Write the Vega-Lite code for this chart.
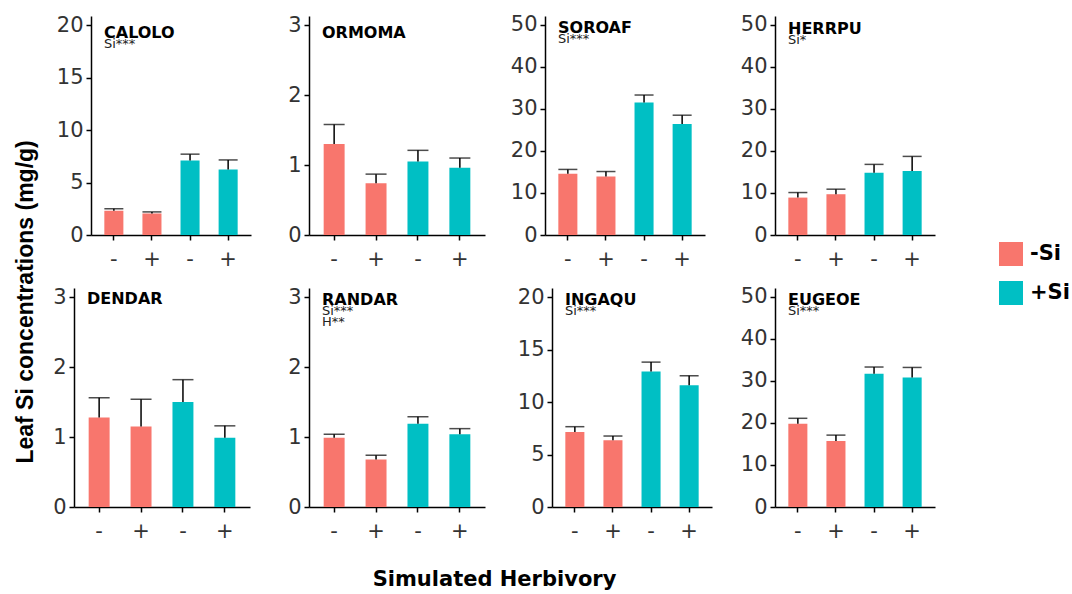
{
  "$schema": "https://vega.github.io/schema/vega-lite/v6.json",
  "padding": {"left": 14, "top": 13, "right": 0, "bottom": 0},
  "data": {"values": [
    {"sp": "CALOLO", "si": "-Si", "herb": "-", "cond": "-Si:-", "mean": 2.3, "upper": 2.5},
    {"sp": "CALOLO", "si": "-Si", "herb": "+", "cond": "-Si:+", "mean": 2.05, "upper": 2.2},
    {"sp": "CALOLO", "si": "+Si", "herb": "-", "cond": "+Si:-", "mean": 7.1, "upper": 7.7},
    {"sp": "CALOLO", "si": "+Si", "herb": "+", "cond": "+Si:+", "mean": 6.25, "upper": 7.15},
    {"sp": "ORMOMA", "si": "-Si", "herb": "-", "cond": "-Si:-", "mean": 1.3, "upper": 1.58},
    {"sp": "ORMOMA", "si": "-Si", "herb": "+", "cond": "-Si:+", "mean": 0.74, "upper": 0.87},
    {"sp": "ORMOMA", "si": "+Si", "herb": "-", "cond": "+Si:-", "mean": 1.05, "upper": 1.21},
    {"sp": "ORMOMA", "si": "+Si", "herb": "+", "cond": "+Si:+", "mean": 0.96, "upper": 1.1},
    {"sp": "SOROAF", "si": "-Si", "herb": "-", "cond": "-Si:-", "mean": 14.6, "upper": 15.6},
    {"sp": "SOROAF", "si": "-Si", "herb": "+", "cond": "-Si:+", "mean": 13.9, "upper": 15.1},
    {"sp": "SOROAF", "si": "+Si", "herb": "-", "cond": "+Si:-", "mean": 31.5, "upper": 33.3},
    {"sp": "SOROAF", "si": "+Si", "herb": "+", "cond": "+Si:+", "mean": 26.4, "upper": 28.5},
    {"sp": "HERRPU", "si": "-Si", "herb": "-", "cond": "-Si:-", "mean": 8.9, "upper": 10.1},
    {"sp": "HERRPU", "si": "-Si", "herb": "+", "cond": "-Si:+", "mean": 9.7, "upper": 10.9},
    {"sp": "HERRPU", "si": "+Si", "herb": "-", "cond": "+Si:-", "mean": 14.8, "upper": 16.8},
    {"sp": "HERRPU", "si": "+Si", "herb": "+", "cond": "+Si:+", "mean": 15.2, "upper": 18.7},
    {"sp": "DENDAR", "si": "-Si", "herb": "-", "cond": "-Si:-", "mean": 1.28, "upper": 1.56},
    {"sp": "DENDAR", "si": "-Si", "herb": "+", "cond": "-Si:+", "mean": 1.15, "upper": 1.54},
    {"sp": "DENDAR", "si": "+Si", "herb": "-", "cond": "+Si:-", "mean": 1.5, "upper": 1.82},
    {"sp": "DENDAR", "si": "+Si", "herb": "+", "cond": "+Si:+", "mean": 0.99, "upper": 1.16},
    {"sp": "RANDAR", "si": "-Si", "herb": "-", "cond": "-Si:-", "mean": 0.99, "upper": 1.04},
    {"sp": "RANDAR", "si": "-Si", "herb": "+", "cond": "-Si:+", "mean": 0.68, "upper": 0.74},
    {"sp": "RANDAR", "si": "+Si", "herb": "-", "cond": "+Si:-", "mean": 1.19, "upper": 1.29},
    {"sp": "RANDAR", "si": "+Si", "herb": "+", "cond": "+Si:+", "mean": 1.04, "upper": 1.12},
    {"sp": "INGAQU", "si": "-Si", "herb": "-", "cond": "-Si:-", "mean": 7.14, "upper": 7.65},
    {"sp": "INGAQU", "si": "-Si", "herb": "+", "cond": "-Si:+", "mean": 6.35, "upper": 6.76},
    {"sp": "INGAQU", "si": "+Si", "herb": "-", "cond": "+Si:-", "mean": 12.9, "upper": 13.8},
    {"sp": "INGAQU", "si": "+Si", "herb": "+", "cond": "+Si:+", "mean": 11.6, "upper": 12.5},
    {"sp": "EUGEOE", "si": "-Si", "herb": "-", "cond": "-Si:-", "mean": 19.8, "upper": 21.1},
    {"sp": "EUGEOE", "si": "-Si", "herb": "+", "cond": "-Si:+", "mean": 15.7, "upper": 17.1},
    {"sp": "EUGEOE", "si": "+Si", "herb": "-", "cond": "+Si:-", "mean": 31.7, "upper": 33.3},
    {"sp": "EUGEOE", "si": "+Si", "herb": "+", "cond": "+Si:+", "mean": 30.8, "upper": 33.2}
  ]},
  "title": {"text": "Leaf Si concentrations (mg/g)", "orient": "left", "anchor": "middle", "font": "Liberation Sans", "fontSize": 23, "fontWeight": "bold", "color": "black", "offset": 4},
  "resolve": {"scale": {"color": "shared"}, "legend": {"color": "shared"}},
  "vconcat": [
    {
      "title": {"text": "Simulated Herbivory", "orient": "bottom", "anchor": "middle", "font": "DejaVu Sans", "fontSize": 21, "fontWeight": "bold", "color": "black", "offset": 28, "dx": 6},
      "spacing": 16,
      "resolve": {"scale": {"color": "shared"}, "legend": {"color": "shared"}},
      "vconcat": [
        {
          "spacing": 0,
          "resolve": {"scale": {"color": "shared"}, "legend": {"color": "shared"}},
          "hconcat": [
            {
              "width": 177, "height": 219,
              "title": {"text": "CALOLO", "subtitle": "Si***", "anchor": "start", "frame": "group", "orient": "top", "offset": -37, "dx": 30, "font": "DejaVu Sans", "fontSize": 16, "fontWeight": "bold", "color": "black", "subtitleFont": "DejaVu Sans", "subtitleFontSize": 13, "subtitleColor": "#222222", "subtitlePadding": -3, "subtitleLineHeight": 11},
              "transform": [{"filter": "datum.sp === 'CALOLO'"}],
              "encoding": {"x": {"field": "cond", "type": "nominal", "sort": ["-Si:-", "-Si:+", "+Si:-", "+Si:+"], "scale": {"range": [17, 177], "paddingInner": 0.5, "paddingOuter": 0.35}, "axis": {"title": null, "labelExpr": "substring(datum.label, 4)", "labelAngle": 0, "labelPadding": 8}}},
              "layer": [
                {"mark": {"type": "bar"}, "encoding": {"y": {"field": "mean", "type": "quantitative", "title": null, "scale": {"domain": [0, 20.86], "nice": false}, "axis": {"title": null, "values": [0, 5, 10, 15, 20], "format": "d", "offset": -17, "labelPadding": 3}}, "color": {"field": "si", "type": "nominal", "scale": {"domain": ["-Si", "+Si"], "range": ["#F8766D", "#00BFC4"]}, "legend": {"title": null, "orient": "none", "legendX": 925, "legendY": 226, "symbolType": "square", "symbolSize": 576, "symbolStrokeWidth": 0, "labelFont": "DejaVu Sans", "labelFontSize": 21, "labelFontWeight": "bold", "labelColor": "black", "rowPadding": 15, "labelOffset": 7, "padding": 0}}}},
                {"mark": {"type": "rule", "color": "black", "strokeWidth": 1.5}, "encoding": {"y": {"field": "mean", "type": "quantitative", "title": null}, "y2": {"field": "upper"}}},
                {"mark": {"type": "tick", "color": "black", "thickness": 1.5, "size": 19}, "encoding": {"y": {"field": "upper", "type": "quantitative", "title": null}}}
              ]
            },
            {
              "width": 176, "height": 219,
              "title": {"text": "ORMOMA", "anchor": "start", "frame": "group", "orient": "top", "offset": -27, "dx": 13, "font": "DejaVu Sans", "fontSize": 16, "fontWeight": "bold", "color": "black"},
              "transform": [{"filter": "datum.sp === 'ORMOMA'"}],
              "encoding": {"x": {"field": "cond", "type": "nominal", "sort": ["-Si:-", "-Si:+", "+Si:-", "+Si:+"], "scale": {"paddingInner": 0.5, "paddingOuter": 0.35}, "axis": {"title": null, "labelExpr": "substring(datum.label, 4)", "labelAngle": 0, "labelPadding": 8}}},
              "layer": [
                {"mark": {"type": "bar"}, "encoding": {"y": {"field": "mean", "type": "quantitative", "title": null, "scale": {"domain": [0, 3.13], "nice": false}, "axis": {"title": null, "values": [0, 1, 2, 3], "format": "d", "minExtent": 58, "labelPadding": 3}}, "color": {"field": "si", "type": "nominal", "scale": {"domain": ["-Si", "+Si"], "range": ["#F8766D", "#00BFC4"]}, "legend": {"title": null, "orient": "none", "legendX": 925, "legendY": 226, "symbolType": "square", "symbolSize": 576, "symbolStrokeWidth": 0, "labelFont": "DejaVu Sans", "labelFontSize": 21, "labelFontWeight": "bold", "labelColor": "black", "rowPadding": 15, "labelOffset": 7, "padding": 0}}}},
                {"mark": {"type": "rule", "color": "black", "strokeWidth": 1.5}, "encoding": {"y": {"field": "mean", "type": "quantitative", "title": null}, "y2": {"field": "upper"}}},
                {"mark": {"type": "tick", "color": "black", "thickness": 1.5, "size": 21}, "encoding": {"y": {"field": "upper", "type": "quantitative", "title": null}}}
              ]
            },
            {
              "width": 160, "height": 219,
              "title": {"text": "SOROAF", "subtitle": "Si***", "anchor": "start", "frame": "group", "orient": "top", "offset": -32, "dx": 13, "font": "DejaVu Sans", "fontSize": 16, "fontWeight": "bold", "color": "black", "subtitleFont": "DejaVu Sans", "subtitleFontSize": 13, "subtitleColor": "#222222", "subtitlePadding": -3, "subtitleLineHeight": 11},
              "transform": [{"filter": "datum.sp === 'SOROAF'"}],
              "encoding": {"x": {"field": "cond", "type": "nominal", "sort": ["-Si:-", "-Si:+", "+Si:-", "+Si:+"], "scale": {"paddingInner": 0.5, "paddingOuter": 0.35}, "axis": {"title": null, "labelExpr": "substring(datum.label, 4)", "labelAngle": 0, "labelPadding": 8}}},
              "layer": [
                {"mark": {"type": "bar"}, "encoding": {"y": {"field": "mean", "type": "quantitative", "title": null, "scale": {"domain": [0, 52.1], "nice": false}, "axis": {"title": null, "values": [0, 10, 20, 30, 40, 50], "format": "d", "minExtent": 60, "labelPadding": 3}}, "color": {"field": "si", "type": "nominal", "scale": {"domain": ["-Si", "+Si"], "range": ["#F8766D", "#00BFC4"]}, "legend": {"title": null, "orient": "none", "legendX": 925, "legendY": 226, "symbolType": "square", "symbolSize": 576, "symbolStrokeWidth": 0, "labelFont": "DejaVu Sans", "labelFontSize": 21, "labelFontWeight": "bold", "labelColor": "black", "rowPadding": 15, "labelOffset": 7, "padding": 0}}}},
                {"mark": {"type": "rule", "color": "black", "strokeWidth": 1.5}, "encoding": {"y": {"field": "mean", "type": "quantitative", "title": null}, "y2": {"field": "upper"}}},
                {"mark": {"type": "tick", "color": "black", "thickness": 1.5, "size": 19}, "encoding": {"y": {"field": "upper", "type": "quantitative", "title": null}}}
              ]
            },
            {
              "width": 160, "height": 219,
              "title": {"text": "HERRPU", "subtitle": "Si*", "anchor": "start", "frame": "group", "orient": "top", "offset": -33, "dx": 13, "font": "DejaVu Sans", "fontSize": 16, "fontWeight": "bold", "color": "black", "subtitleFont": "DejaVu Sans", "subtitleFontSize": 13, "subtitleColor": "#222222", "subtitlePadding": -3, "subtitleLineHeight": 11},
              "transform": [{"filter": "datum.sp === 'HERRPU'"}],
              "encoding": {"x": {"field": "cond", "type": "nominal", "sort": ["-Si:-", "-Si:+", "+Si:-", "+Si:+"], "scale": {"paddingInner": 0.5, "paddingOuter": 0.35}, "axis": {"title": null, "labelExpr": "substring(datum.label, 4)", "labelAngle": 0, "labelPadding": 8}}},
              "layer": [
                {"mark": {"type": "bar"}, "encoding": {"y": {"field": "mean", "type": "quantitative", "title": null, "scale": {"domain": [0, 52.1], "nice": false}, "axis": {"title": null, "values": [0, 10, 20, 30, 40, 50], "format": "d", "minExtent": 70, "labelPadding": 3}}, "color": {"field": "si", "type": "nominal", "scale": {"domain": ["-Si", "+Si"], "range": ["#F8766D", "#00BFC4"]}, "legend": {"title": null, "orient": "none", "legendX": 925, "legendY": 226, "symbolType": "square", "symbolSize": 576, "symbolStrokeWidth": 0, "labelFont": "DejaVu Sans", "labelFontSize": 21, "labelFontWeight": "bold", "labelColor": "black", "rowPadding": 15, "labelOffset": 7, "padding": 0}}}},
                {"mark": {"type": "rule", "color": "black", "strokeWidth": 1.5}, "encoding": {"y": {"field": "mean", "type": "quantitative", "title": null}, "y2": {"field": "upper"}}},
                {"mark": {"type": "tick", "color": "black", "thickness": 1.5, "size": 19}, "encoding": {"y": {"field": "upper", "type": "quantitative", "title": null}}}
              ]
            }
          ]
        },
        {
          "spacing": 0,
          "resolve": {"scale": {"color": "shared"}, "legend": {"color": "shared"}},
          "hconcat": [
            {
              "width": 176, "height": 219,
              "title": {"text": "DENDAR", "anchor": "start", "frame": "group", "orient": "top", "offset": -21, "dx": 13, "font": "DejaVu Sans", "fontSize": 16, "fontWeight": "bold", "color": "black"},
              "transform": [{"filter": "datum.sp === 'DENDAR'"}],
              "encoding": {"x": {"field": "cond", "type": "nominal", "sort": ["-Si:-", "-Si:+", "+Si:-", "+Si:+"], "scale": {"paddingInner": 0.5, "paddingOuter": 0.35}, "axis": {"title": null, "labelExpr": "substring(datum.label, 4)", "labelAngle": 0, "labelPadding": 8}}},
              "layer": [
                {"mark": {"type": "bar"}, "encoding": {"y": {"field": "mean", "type": "quantitative", "title": null, "scale": {"domain": [0, 3.13], "nice": false}, "axis": {"title": null, "values": [0, 1, 2, 3], "format": "d", "minExtent": 32, "labelPadding": 3}}, "color": {"field": "si", "type": "nominal", "scale": {"domain": ["-Si", "+Si"], "range": ["#F8766D", "#00BFC4"]}, "legend": {"title": null, "orient": "none", "legendX": 925, "legendY": 226, "symbolType": "square", "symbolSize": 576, "symbolStrokeWidth": 0, "labelFont": "DejaVu Sans", "labelFontSize": 21, "labelFontWeight": "bold", "labelColor": "black", "rowPadding": 15, "labelOffset": 7, "padding": 0}}}},
                {"mark": {"type": "rule", "color": "black", "strokeWidth": 1.5}, "encoding": {"y": {"field": "mean", "type": "quantitative", "title": null}, "y2": {"field": "upper"}}},
                {"mark": {"type": "tick", "color": "black", "thickness": 1.5, "size": 21}, "encoding": {"y": {"field": "upper", "type": "quantitative", "title": null}}}
              ]
            },
            {
              "width": 176, "height": 219,
              "title": {"text": "RANDAR", "subtitle": ["Si***", "H**"], "anchor": "start", "frame": "group", "orient": "top", "offset": -43, "dx": 13, "font": "DejaVu Sans", "fontSize": 16, "fontWeight": "bold", "color": "black", "subtitleFont": "DejaVu Sans", "subtitleFontSize": 13, "subtitleColor": "#222222", "subtitlePadding": -3, "subtitleLineHeight": 11},
              "transform": [{"filter": "datum.sp === 'RANDAR'"}],
              "encoding": {"x": {"field": "cond", "type": "nominal", "sort": ["-Si:-", "-Si:+", "+Si:-", "+Si:+"], "scale": {"paddingInner": 0.5, "paddingOuter": 0.35}, "axis": {"title": null, "labelExpr": "substring(datum.label, 4)", "labelAngle": 0, "labelPadding": 8}}},
              "layer": [
                {"mark": {"type": "bar"}, "encoding": {"y": {"field": "mean", "type": "quantitative", "title": null, "scale": {"domain": [0, 3.13], "nice": false}, "axis": {"title": null, "values": [0, 1, 2, 3], "format": "d", "minExtent": 59, "labelPadding": 3}}, "color": {"field": "si", "type": "nominal", "scale": {"domain": ["-Si", "+Si"], "range": ["#F8766D", "#00BFC4"]}, "legend": {"title": null, "orient": "none", "legendX": 925, "legendY": 226, "symbolType": "square", "symbolSize": 576, "symbolStrokeWidth": 0, "labelFont": "DejaVu Sans", "labelFontSize": 21, "labelFontWeight": "bold", "labelColor": "black", "rowPadding": 15, "labelOffset": 7, "padding": 0}}}},
                {"mark": {"type": "rule", "color": "black", "strokeWidth": 1.5}, "encoding": {"y": {"field": "mean", "type": "quantitative", "title": null}, "y2": {"field": "upper"}}},
                {"mark": {"type": "tick", "color": "black", "thickness": 1.5, "size": 21}, "encoding": {"y": {"field": "upper", "type": "quantitative", "title": null}}}
              ]
            },
            {
              "width": 160, "height": 219,
              "title": {"text": "INGAQU", "subtitle": "Si***", "anchor": "start", "frame": "group", "orient": "top", "offset": -32, "dx": 13, "font": "DejaVu Sans", "fontSize": 16, "fontWeight": "bold", "color": "black", "subtitleFont": "DejaVu Sans", "subtitleFontSize": 13, "subtitleColor": "#222222", "subtitlePadding": -3, "subtitleLineHeight": 11},
              "transform": [{"filter": "datum.sp === 'INGAQU'"}],
              "encoding": {"x": {"field": "cond", "type": "nominal", "sort": ["-Si:-", "-Si:+", "+Si:-", "+Si:+"], "scale": {"paddingInner": 0.5, "paddingOuter": 0.35}, "axis": {"title": null, "labelExpr": "substring(datum.label, 4)", "labelAngle": 0, "labelPadding": 8}}},
              "layer": [
                {"mark": {"type": "bar"}, "encoding": {"y": {"field": "mean", "type": "quantitative", "title": null, "scale": {"domain": [0, 20.86], "nice": false}, "axis": {"title": null, "values": [0, 5, 10, 15, 20], "format": "d", "minExtent": 67, "labelPadding": 3}}, "color": {"field": "si", "type": "nominal", "scale": {"domain": ["-Si", "+Si"], "range": ["#F8766D", "#00BFC4"]}, "legend": {"title": null, "orient": "none", "legendX": 925, "legendY": 226, "symbolType": "square", "symbolSize": 576, "symbolStrokeWidth": 0, "labelFont": "DejaVu Sans", "labelFontSize": 21, "labelFontWeight": "bold", "labelColor": "black", "rowPadding": 15, "labelOffset": 7, "padding": 0}}}},
                {"mark": {"type": "rule", "color": "black", "strokeWidth": 1.5}, "encoding": {"y": {"field": "mean", "type": "quantitative", "title": null}, "y2": {"field": "upper"}}},
                {"mark": {"type": "tick", "color": "black", "thickness": 1.5, "size": 19}, "encoding": {"y": {"field": "upper", "type": "quantitative", "title": null}}}
              ]
            },
            {
              "width": 160, "height": 219,
              "title": {"text": "EUGEOE", "subtitle": "Si***", "anchor": "start", "frame": "group", "orient": "top", "offset": -32, "dx": 13, "font": "DejaVu Sans", "fontSize": 16, "fontWeight": "bold", "color": "black", "subtitleFont": "DejaVu Sans", "subtitleFontSize": 13, "subtitleColor": "#222222", "subtitlePadding": -3, "subtitleLineHeight": 11},
              "transform": [{"filter": "datum.sp === 'EUGEOE'"}],
              "encoding": {"x": {"field": "cond", "type": "nominal", "sort": ["-Si:-", "-Si:+", "+Si:-", "+Si:+"], "scale": {"paddingInner": 0.5, "paddingOuter": 0.35}, "axis": {"title": null, "labelExpr": "substring(datum.label, 4)", "labelAngle": 0, "labelPadding": 8}}},
              "layer": [
                {"mark": {"type": "bar"}, "encoding": {"y": {"field": "mean", "type": "quantitative", "title": null, "scale": {"domain": [0, 52.1], "nice": false}, "axis": {"title": null, "values": [0, 10, 20, 30, 40, 50], "format": "d", "minExtent": 63, "labelPadding": 3}}, "color": {"field": "si", "type": "nominal", "scale": {"domain": ["-Si", "+Si"], "range": ["#F8766D", "#00BFC4"]}, "legend": {"title": null, "orient": "none", "legendX": 925, "legendY": 226, "symbolType": "square", "symbolSize": 576, "symbolStrokeWidth": 0, "labelFont": "DejaVu Sans", "labelFontSize": 21, "labelFontWeight": "bold", "labelColor": "black", "rowPadding": 15, "labelOffset": 7, "padding": 0}}}},
                {"mark": {"type": "rule", "color": "black", "strokeWidth": 1.5}, "encoding": {"y": {"field": "mean", "type": "quantitative", "title": null}, "y2": {"field": "upper"}}},
                {"mark": {"type": "tick", "color": "black", "thickness": 1.5, "size": 19}, "encoding": {"y": {"field": "upper", "type": "quantitative", "title": null}}}
              ]
            }
          ]
        }
      ]
    }
  ],
  "config": {
    "font": "DejaVu Sans",
    "view": {"stroke": null},
    "axis": {"domainColor": "black", "domainWidth": 1.5, "tickColor": "black", "tickWidth": 1.5, "tickSize": 5, "labelFont": "DejaVu Sans", "labelFontSize": 21, "labelColor": "#333333", "grid": false},
    "axisX": {"labelAngle": 0}
  }
}
